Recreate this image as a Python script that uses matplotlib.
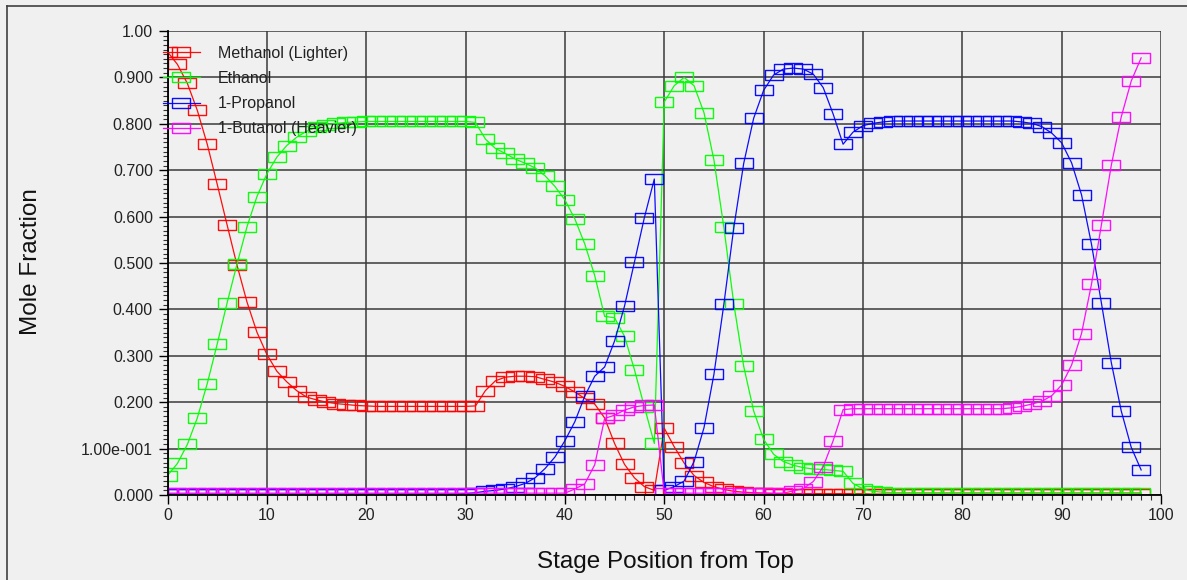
import numpy as np
import matplotlib
matplotlib.use("Agg")
import matplotlib.pyplot as plt
from matplotlib.lines import Line2D
from matplotlib.ticker import MultipleLocator, FixedLocator

plt.rcParams['font.family'] = ['Liberation Sans', 'DejaVu Sans']

# stage numbers 0..98
stages = np.arange(99)

methanol = [0.955, 0.928, 0.887, 0.829, 0.756, 0.670, 0.582, 0.495, 0.416, 0.351,
            0.303, 0.267, 0.244, 0.225, 0.211, 0.205, 0.200, 0.197, 0.195, 0.193,
            0.192, 0.191, 0.191, 0.191, 0.191, 0.191, 0.191, 0.191, 0.191, 0.191,
            0.191, 0.192, 0.225, 0.246, 0.254, 0.256, 0.256, 0.255, 0.249, 0.243,
            0.234, 0.222, 0.208, 0.196, 0.166, 0.111, 0.066, 0.037, 0.018, 0.010,
            0.144, 0.104, 0.069, 0.042, 0.027, 0.018, 0.012, 0.008, 0.006, 0.005,
            0.004, 0.003, 0.003, 0.003, 0.003, 0.003, 0.003, 0.003, 0.003, 0.003,
            0.003, 0.002, 0.002, 0.002, 0.002, 0.002, 0.002, 0.002, 0.002, 0.002,
            0.002, 0.002, 0.002, 0.002, 0.002, 0.002, 0.002, 0.002, 0.002, 0.002,
            0.002, 0.002, 0.002, 0.002, 0.002, 0.002, 0.002, 0.002, 0.002]

ethanol = [0.042, 0.068, 0.109, 0.166, 0.240, 0.325, 0.414, 0.498, 0.578, 0.643,
           0.692, 0.728, 0.753, 0.771, 0.784, 0.793, 0.798, 0.801, 0.803, 0.804,
           0.805, 0.805, 0.805, 0.805, 0.805, 0.805, 0.805, 0.805, 0.805, 0.805,
           0.805, 0.803, 0.767, 0.747, 0.736, 0.724, 0.715, 0.705, 0.688, 0.665,
           0.636, 0.595, 0.541, 0.473, 0.385, 0.382, 0.342, 0.270, 0.190, 0.111,
           0.847, 0.882, 0.900, 0.882, 0.824, 0.722, 0.577, 0.412, 0.277, 0.181,
           0.120, 0.088, 0.072, 0.064, 0.059, 0.056, 0.055, 0.053, 0.051, 0.025,
           0.013, 0.008, 0.006, 0.005, 0.005, 0.005, 0.005, 0.005, 0.005, 0.005,
           0.005, 0.005, 0.005, 0.005, 0.005, 0.005, 0.005, 0.005, 0.005, 0.005,
           0.005, 0.005, 0.005, 0.005, 0.005, 0.005, 0.005, 0.005, 0.005]

propanol = [0.002, 0.002, 0.002, 0.002, 0.002, 0.002, 0.002, 0.002, 0.002, 0.002,
            0.002, 0.002, 0.002, 0.002, 0.002, 0.002, 0.002, 0.002, 0.002, 0.002,
            0.002, 0.002, 0.002, 0.002, 0.002, 0.002, 0.002, 0.002, 0.002, 0.002,
            0.003, 0.005, 0.008, 0.010, 0.013, 0.018, 0.025, 0.037, 0.057, 0.082,
            0.117, 0.158, 0.213, 0.256, 0.276, 0.332, 0.407, 0.502, 0.598, 0.681,
            0.010, 0.018, 0.030, 0.072, 0.145, 0.260, 0.411, 0.576, 0.715, 0.812,
            0.872, 0.905, 0.918, 0.920, 0.918, 0.907, 0.878, 0.821, 0.756, 0.782,
            0.796, 0.801, 0.804, 0.806, 0.806, 0.806, 0.806, 0.806, 0.806, 0.806,
            0.806, 0.806, 0.806, 0.806, 0.806, 0.806, 0.804, 0.801, 0.794, 0.780,
            0.759, 0.716, 0.647, 0.541, 0.414, 0.285, 0.181, 0.103, 0.054]

butanol = [0.004, 0.004, 0.004, 0.004, 0.004, 0.004, 0.004, 0.004, 0.004, 0.004,
           0.004, 0.004, 0.004, 0.004, 0.004, 0.004, 0.004, 0.004, 0.004, 0.004,
           0.004, 0.004, 0.004, 0.004, 0.004, 0.004, 0.004, 0.004, 0.004, 0.004,
           0.004, 0.004, 0.004, 0.004, 0.004, 0.004, 0.004, 0.004, 0.004, 0.004,
           0.004, 0.013, 0.024, 0.065, 0.165, 0.172, 0.183, 0.190, 0.193, 0.194,
           0.004, 0.004, 0.004, 0.004, 0.004, 0.004, 0.004, 0.004, 0.004, 0.004,
           0.004, 0.004, 0.004, 0.009, 0.014, 0.029, 0.061, 0.117, 0.184, 0.186,
           0.186, 0.186, 0.186, 0.186, 0.186, 0.186, 0.186, 0.186, 0.186, 0.186,
           0.186, 0.186, 0.186, 0.186, 0.186, 0.188, 0.191, 0.196, 0.202, 0.214,
           0.237, 0.280, 0.348, 0.454, 0.582, 0.711, 0.815, 0.892, 0.942]

names = ['Methanol (Lighter)', 'Ethanol', '1-Propanol', '1-Butanol (Heavier)']
colors = ['#ff0000', '#00ff00', '#0000ff', '#ff00ff']

ytick_vals = [0.0, 0.1, 0.2, 0.3, 0.4, 0.5, 0.6, 0.7, 0.8, 0.9, 1.0]
ytick_text = ['0.000', '1.00e-001', '0.200', '0.300', '0.400', '0.500',
              '0.600', '0.700', '0.800', '0.900', '1.00']

W, H = 1187, 580
bg = '#f0f0f0'
fig = plt.figure(figsize=(W / 100, H / 100), dpi=100, facecolor=bg)
ax = fig.add_axes([167.5 / W, 1 - 495 / H, (1161 - 167.5) / W, (495 - 31) / H])
ax.set_facecolor(bg)

# wide rectangle marker
rect = [(-1, -0.62), (1, -0.62), (1, 0.62), (-1, 0.62), (-1, -0.62)]

for vals, name, c in zip([methanol, ethanol, propanol, butanol], names, colors):
    ax.plot(stages, vals, color=c, lw=0.9, marker=rect, markersize=12.5,
            markerfacecolor='none', markeredgecolor=c, markeredgewidth=1.0,
            alpha=0.95, label=name)

ax.set_xlim(0, 100)
ax.set_ylim(0, 1.0)
ax.xaxis.set_major_locator(MultipleLocator(10))
ax.xaxis.set_minor_locator(MultipleLocator(1))
ax.yaxis.set_major_locator(FixedLocator(ytick_vals))
ax.yaxis.set_minor_locator(MultipleLocator(0.01))
ax.set_yticklabels(ytick_text)

ax.grid(True, which='major', color='#3a3a3a', lw=1.1)
ax.set_axisbelow(True)
for s in ['top', 'right']:
    ax.spines[s].set_visible(False)
for s in ['left', 'bottom']:
    ax.spines[s].set_color('black')
    ax.spines[s].set_linewidth(1.3)

ax.tick_params(which='major', direction='out', length=6.5, width=1.0,
               color='black', labelsize=11.5, labelcolor='#222222')
ax.tick_params(which='minor', direction='out', length=3.6, width=0.8, color='#333333')
ax.tick_params(axis='y', which='major', pad=4)
ax.tick_params(axis='x', which='major', pad=3)

fig.text(665 / W, 1 - 562 / H, 'Stage Position from Top', fontsize=17.5,
         ha='center', va='center', color='#111111')
fig.text(31 / W, 1 - 262 / H, 'Mole Fraction', fontsize=17.5, rotation=90,
         ha='center', va='center', color='#111111')

ax.legend(loc='upper left', bbox_to_anchor=(163 / W, 1 - 46 / H),
          bbox_transform=fig.transFigure, frameon=False, fontsize=11.5,
          borderpad=0, borderaxespad=0, handlelength=2.3, handletextpad=1.15,
          labelspacing=0.63, numpoints=1, labelcolor='#222222')

# outer frame lines (top and left)
fig.add_artist(Line2D([7 / W, 1], [1 - 6 / H, 1 - 6 / H], transform=fig.transFigure,
                      color='#404040', lw=1.2))
fig.add_artist(Line2D([7 / W, 7 / W], [0, 1 - 6 / H], transform=fig.transFigure,
                      color='#404040', lw=1.2))

fig.savefig('out.png', dpi=100, facecolor=bg)
